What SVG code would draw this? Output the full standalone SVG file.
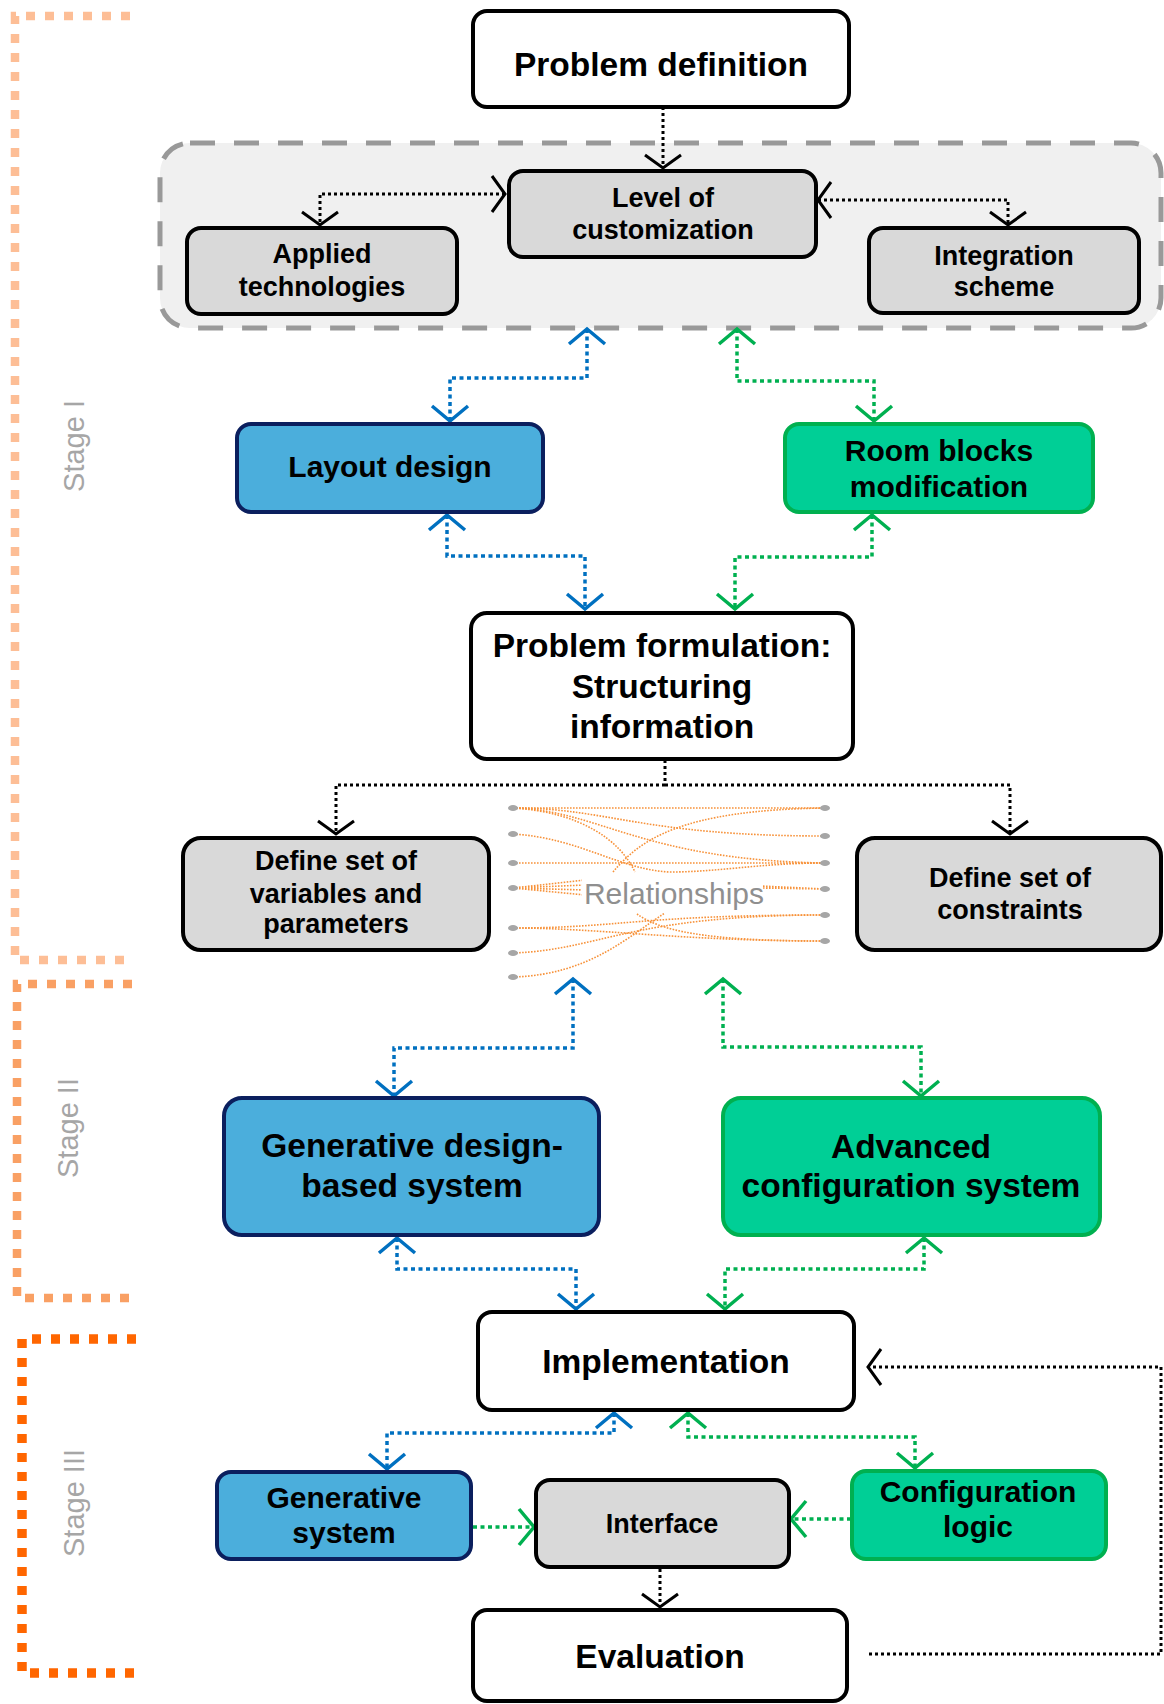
<svg xmlns="http://www.w3.org/2000/svg" width="1164" height="1704" viewBox="0 0 1164 1704">
<style>
  .t { font-family: "Liberation Sans", Arial, sans-serif; font-weight: bold; fill: #000; text-anchor: middle; }
  .big { font-size: 33.5px; }
  .mid { font-size: 30px; }
  .sml { font-size: 27px; }
  .stage { font-family: "Liberation Sans", Arial, sans-serif; font-size: 29px; fill: #A6A6A6; text-anchor: middle; }
  .bw { fill: #FFFFFF; stroke: #000; stroke-width: 4; }
  .bg { fill: #D9D9D9; stroke: #000; stroke-width: 4; }
  .bb { fill: #4BAEDC; stroke: #0B1F5E; stroke-width: 4; }
  .bgr { fill: #00CF96; stroke: #00B050; stroke-width: 4; }
  .ck { fill: none; stroke: #000; stroke-width: 3; stroke-dasharray: 3 3; }
  .cb { fill: none; stroke: #0070C0; stroke-width: 3.5; stroke-dasharray: 4 3.5; }
  .cg { fill: none; stroke: #00B050; stroke-width: 3.5; stroke-dasharray: 4 3.5; }
  .rel { fill: none; stroke: #F7923A; stroke-width: 1.6; stroke-dasharray: 1.6 1.4; }
  .dot { fill: #A6A6A6; }
</style>
<defs>
  <marker id="mk" markerUnits="userSpaceOnUse" viewBox="-18 -21 22 42" markerWidth="22" markerHeight="42" refX="0" refY="0" orient="auto-start-reverse">
    <path d="M-13,-18 L0,0 L-13,18" fill="none" stroke="#000" stroke-width="3"/>
  </marker>
  <marker id="mb" markerUnits="userSpaceOnUse" viewBox="-18 -21 22 42" markerWidth="22" markerHeight="42" refX="0" refY="0" orient="auto-start-reverse">
    <path d="M-15,-18 L0,0 L-15,18" fill="none" stroke="#0070C0" stroke-width="3.5"/>
  </marker>
  <marker id="mg" markerUnits="userSpaceOnUse" viewBox="-18 -21 22 42" markerWidth="22" markerHeight="42" refX="0" refY="0" orient="auto-start-reverse">
    <path d="M-15,-18 L0,0 L-15,18" fill="none" stroke="#00B050" stroke-width="3.5"/>
  </marker>
</defs>

<!-- Stage brackets -->
<g id="stage-brackets" fill="none" stroke-dasharray="9 10">
  <path d="M130,16 H15 V960 H130" stroke="#FDBE96" stroke-width="8.5"/>
  <path d="M132,984 H17 V1298 H132" stroke="#F9A064" stroke-width="8.5"/>
  <path d="M136,1339 H22 V1673 H136" stroke="#FF6600" stroke-width="9.5"/>
</g>
<g id="stage-labels">
  <text class="stage" transform="translate(84,446) rotate(-90)">Stage I</text>
  <text class="stage" transform="translate(78,1128) rotate(-90)">Stage II</text>
  <text class="stage" transform="translate(84,1503) rotate(-90)">Stage III</text>
</g>

<!-- Group container -->
<g id="group-stage1">
  <rect x="160" y="143" width="1001" height="185" rx="30" fill="#F0F0F0" stroke="#999999" stroke-width="5" stroke-dasharray="25 19"/>
</g>

<!-- Relationships cluster -->
<g id="relationships">
  <path class="rel" d="M513,808 L825,808"/>
  <path class="rel" d="M513,808 C610,808 640,836 825,836"/>
  <path class="rel" d="M513,808 C600,810 640,860 825,863"/>
  <path class="rel" d="M513,808 C580,812 620,840 635,872"/>
  <path class="rel" d="M513,834 C580,838 620,870 670,872 C720,872 760,863 825,863"/>
  <path class="rel" d="M513,863 L825,863"/>
  <path class="rel" d="M613,872 C640,840 680,810 825,808"/>
  <path class="rel" d="M513,888 L585,880 M513,888 L585,885 M513,888 L585,890 M513,888 L585,895"/>
  <path class="rel" d="M760,888 L825,889 M760,886 L825,889"/>
  <path class="rel" d="M513,928 C620,928 640,915 825,915"/>
  <path class="rel" d="M513,928 C600,928 680,941 825,941"/>
  <path class="rel" d="M513,953 C600,950 630,915 825,915"/>
  <path class="rel" d="M513,977 C590,975 630,935 665,913"/>
  <path class="rel" d="M637,914 C660,930 700,941 825,941"/>
  <rect x="582" y="874" width="180" height="38" fill="#FFFFFF"/>
  <ellipse class="dot" cx="513" cy="808" rx="5" ry="3"/>
  <ellipse class="dot" cx="513" cy="834" rx="5" ry="3"/>
  <ellipse class="dot" cx="513" cy="863" rx="5" ry="3"/>
  <ellipse class="dot" cx="513" cy="888" rx="5" ry="3"/>
  <ellipse class="dot" cx="513" cy="928" rx="5" ry="3"/>
  <ellipse class="dot" cx="513" cy="953" rx="5" ry="3"/>
  <ellipse class="dot" cx="513" cy="977" rx="5" ry="3"/>
  <ellipse class="dot" cx="825" cy="808" rx="5" ry="3"/>
  <ellipse class="dot" cx="825" cy="836" rx="5" ry="3"/>
  <ellipse class="dot" cx="825" cy="863" rx="5" ry="3"/>
  <ellipse class="dot" cx="825" cy="889" rx="5" ry="3"/>
  <ellipse class="dot" cx="825" cy="915" rx="5" ry="3"/>
  <ellipse class="dot" cx="825" cy="941" rx="5" ry="3"/>
  <text x="674" y="904" font-family="Liberation Sans, Arial, sans-serif" font-size="30" fill="#8F8F8F" text-anchor="middle">Relationships</text>
</g>

<!-- Connectors -->
<g id="connectors">
  <path class="ck" d="M663,107 V168" marker-end="url(#mk)"/>
  <path class="ck" d="M505,194 H320 V225" marker-start="url(#mk)" marker-end="url(#mk)"/>
  <path class="ck" d="M818,200 H1008 V225" marker-start="url(#mk)" marker-end="url(#mk)"/>

  <path class="cb" d="M587,329 V378 H450 V421" marker-start="url(#mb)" marker-end="url(#mb)"/>
  <path class="cg" d="M737,329 V381 H874 V421" marker-start="url(#mg)" marker-end="url(#mg)"/>

  <path class="cb" d="M447,515 V556 H585 V609" marker-start="url(#mb)" marker-end="url(#mb)"/>
  <path class="cg" d="M872,515 V557 H735 V609" marker-start="url(#mg)" marker-end="url(#mg)"/>

  <path class="ck" d="M665,760 V785"/>
  <path class="ck" d="M665,785 H336 V834" marker-end="url(#mk)"/>
  <path class="ck" d="M665,785 H1010 V834" marker-end="url(#mk)"/>

  <path class="cb" d="M573,979 V1048 H394 V1096" marker-start="url(#mb)" marker-end="url(#mb)"/>
  <path class="cg" d="M723,979 V1047 H921 V1096" marker-start="url(#mg)" marker-end="url(#mg)"/>

  <path class="cb" d="M397,1238 V1269 H576 V1309" marker-start="url(#mb)" marker-end="url(#mb)"/>
  <path class="cg" d="M924,1238 V1269 H725 V1309" marker-start="url(#mg)" marker-end="url(#mg)"/>

  <path class="cb" d="M614,1413 V1433 H387 V1469" marker-start="url(#mb)" marker-end="url(#mb)"/>
  <path class="cg" d="M688,1413 V1437 H915 V1468" marker-start="url(#mg)" marker-end="url(#mg)"/>

  <path class="cg" d="M473,1527 H534" marker-end="url(#mg)"/>
  <path class="cg" d="M851,1519 H791" marker-end="url(#mg)"/>

  <path class="ck" d="M660,1569 V1607" marker-end="url(#mk)"/>
  <path class="ck" d="M869,1654 H1161 V1367 H868" marker-end="url(#mk)"/>
</g>

<!-- Nodes -->
<g id="problem-definition">
  <rect class="bw" x="473" y="11" width="376" height="96" rx="14"/>
  <text class="t big" x="661" y="76">Problem definition</text>
</g>
<g id="level-of-customization">
  <rect class="bg" x="509" y="171" width="307" height="86" rx="14"/>
  <text class="t sml" x="663" y="207">Level of</text>
  <text class="t sml" x="663" y="239">customization</text>
</g>
<g id="applied-technologies">
  <rect class="bg" x="187" y="228" width="270" height="86" rx="14"/>
  <text class="t sml" x="322" y="263">Applied</text>
  <text class="t sml" x="322" y="296">technologies</text>
</g>
<g id="integration-scheme">
  <rect class="bg" x="869" y="228" width="270" height="85" rx="14"/>
  <text class="t sml" x="1004" y="265">Integration</text>
  <text class="t sml" x="1004" y="296">scheme</text>
</g>
<g id="layout-design">
  <rect class="bb" x="237" y="424" width="306" height="88" rx="14"/>
  <text class="t mid" x="390" y="477">Layout design</text>
</g>
<g id="room-blocks-modification">
  <rect class="bgr" x="785" y="424" width="308" height="88" rx="14"/>
  <text class="t mid" x="939" y="461">Room blocks</text>
  <text class="t mid" x="939" y="497">modification</text>
</g>
<g id="problem-formulation">
  <rect class="bw" x="471" y="613" width="382" height="146" rx="16"/>
  <text class="t big" x="662" y="657">Problem formulation:</text>
  <text class="t big" x="662" y="698">Structuring</text>
  <text class="t big" x="662" y="738">information</text>
</g>
<g id="define-variables">
  <rect class="bg" x="183" y="838" width="306" height="112" rx="18"/>
  <text class="t sml" x="336" y="870">Define set of</text>
  <text class="t sml" x="336" y="903">variables and</text>
  <text class="t sml" x="336" y="933">parameters</text>
</g>
<g id="define-constraints">
  <rect class="bg" x="857" y="838" width="304" height="112" rx="18"/>
  <text class="t sml" x="1010" y="887">Define set of</text>
  <text class="t sml" x="1010" y="919">constraints</text>
</g>
<g id="generative-design-system">
  <rect class="bb" x="224" y="1098" width="375" height="137" rx="18"/>
  <text class="t big" x="412" y="1157">Generative design-</text>
  <text class="t big" x="412" y="1197">based system</text>
</g>
<g id="advanced-configuration-system">
  <rect class="bgr" x="723" y="1098" width="377" height="137" rx="18"/>
  <text class="t big" x="911" y="1158">Advanced</text>
  <text class="t big" x="911" y="1197">configuration system</text>
</g>
<g id="implementation">
  <rect class="bw" x="478" y="1312" width="376" height="98" rx="14"/>
  <text class="t big" x="666" y="1373">Implementation</text>
</g>
<g id="generative-system">
  <rect class="bb" x="217" y="1472" width="254" height="87" rx="14"/>
  <text class="t mid" x="344" y="1508">Generative</text>
  <text class="t mid" x="344" y="1543">system</text>
</g>
<g id="interface">
  <rect class="bg" x="536" y="1480" width="253" height="87" rx="14"/>
  <text class="t sml" x="662" y="1533">Interface</text>
</g>
<g id="configuration-logic">
  <rect class="bgr" x="852" y="1471" width="254" height="88" rx="14"/>
  <text class="t mid" x="978" y="1502">Configuration</text>
  <text class="t mid" x="978" y="1537">logic</text>
</g>
<g id="evaluation">
  <rect class="bw" x="473" y="1610" width="374" height="91" rx="14"/>
  <text class="t big" x="660" y="1668">Evaluation</text>
</g>
</svg>
